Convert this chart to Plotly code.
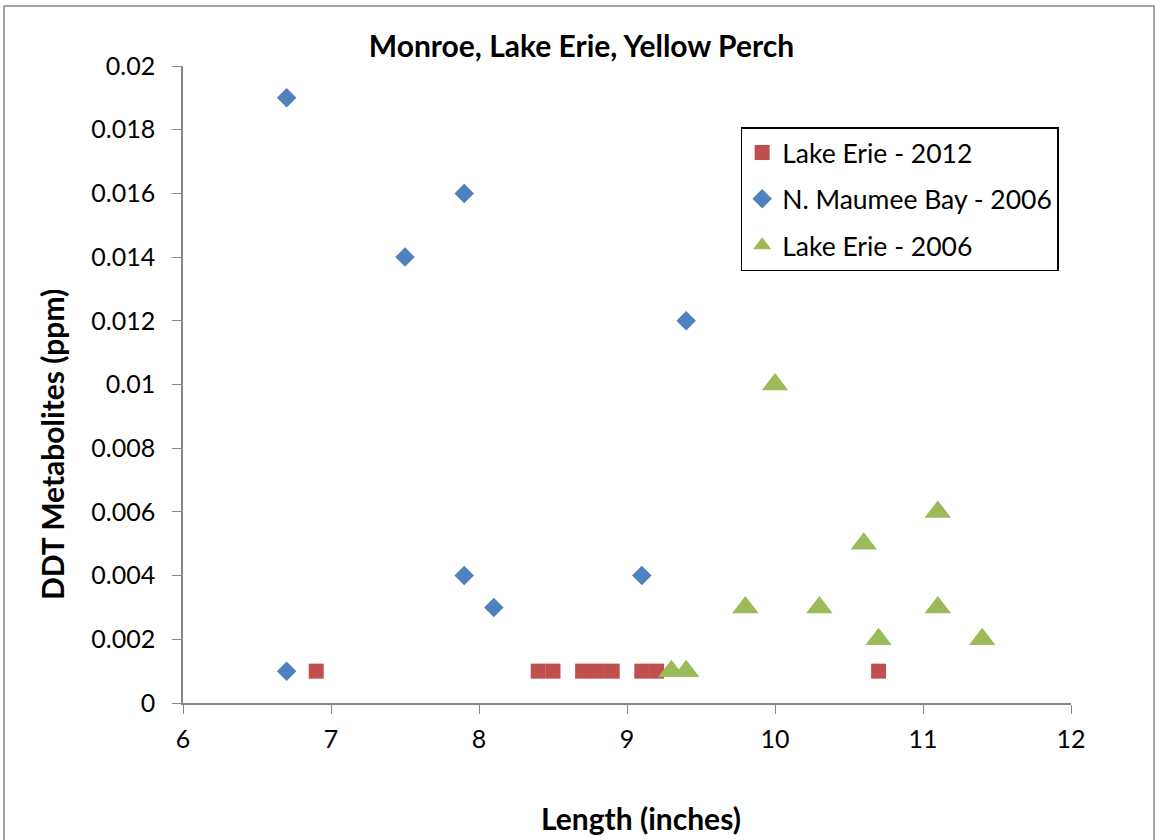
import plotly.graph_objects as go

# Lake Erie - 2012
erie12_len = [6.9, 8.4, 8.5, 8.7, 8.8, 8.9, 9.1, 9.2, 10.7]
erie12_ddt = [0.001, 0.001, 0.001, 0.001, 0.001, 0.001, 0.001, 0.001, 0.001]

# N. Maumee Bay - 2006
maumee_len = [6.7, 6.7, 7.5, 7.9, 7.9, 8.1, 9.1, 9.4]
maumee_ddt = [0.019, 0.001, 0.014, 0.016, 0.004, 0.003, 0.004, 0.012]

# Lake Erie - 2006
erie06_len = [9.3, 9.4, 9.8, 10.0, 10.3, 10.6, 10.7, 11.1, 11.1, 11.4]
erie06_ddt = [0.001, 0.001, 0.003, 0.010, 0.003, 0.005, 0.002, 0.006, 0.003, 0.002]

FONT = "Lato"

fig = go.Figure()
fig.add_trace(go.Scatter(x=erie12_len, y=erie12_ddt, mode="markers", name="Lake Erie - 2012",
                         legendgroup="a", marker=dict(symbol="square", size=15, color="#C0504D")))
fig.add_trace(go.Scatter(x=maumee_len, y=maumee_ddt, mode="markers", name="N. Maumee Bay - 2006",
                         legendgroup="b", marker=dict(symbol="diamond", size=15, color="#4F81BD")))
fig.add_trace(go.Scatter(x=erie06_len, y=erie06_ddt, mode="markers", name="Lake Erie - 2006",
                         legendgroup="c", marker=dict(symbol="triangle-up", size=23, color="#9BBB59")))

axis_style = dict(showgrid=False, zeroline=False, showline=True, linecolor="#868686", linewidth=1.5,
                  ticks="outside", ticklen=9, tickcolor="#868686", automargin=False,
                  tickfont=dict(family=FONT, size=25, color="black"))

fig.update_xaxes(range=[6, 12], dtick=1, ticklabelstandoff=4, **axis_style)
fig.update_yaxes(range=[0, 0.02], dtick=0.002, ticklabelstandoff=12, **axis_style)

# axis titles (placed like the original, slightly off-centre)
fig.add_annotation(text="<b>Length (inches)</b>", xref="paper", yref="paper", x=0.5155, y=-0.18,
                   showarrow=False, xanchor="center", yanchor="middle",
                   font=dict(family=FONT, size=30, color="black"))
fig.add_annotation(text="<b>DDT Metabolites (ppm)</b>", xref="paper", yref="paper", x=-0.1475, y=0.405,
                   showarrow=False, xanchor="center", yanchor="middle", textangle=-90,
                   font=dict(family=FONT, size=30, color="black"))

# outer chart border
fig.add_shape(type="rect", xref="paper", yref="paper", x0=-0.2016, x1=1.0935, y0=-0.23, y1=1.0942,
              line=dict(color="#888888", width=1.5))

fig.update_layout(
    width=1156, height=840,
    margin=dict(l=183, r=85, t=66, b=137),
    plot_bgcolor="white", paper_bgcolor="white",
    font=dict(family=FONT, color="black"),
    title=dict(text="<b>Monroe, Lake Erie, Yellow Perch</b>", x=0.503, xanchor="center",
               y=1 - 46 / 840, yanchor="middle", font=dict(family=FONT, size=30, color="black")),
    legend=dict(x=0.628, y=0.904, xanchor="left", yanchor="top", bordercolor="black", borderwidth=1.5,
                bgcolor="white", font=dict(family=FONT, size=26.5, color="black"),
                traceorder="grouped", tracegroupgap=9),
    showlegend=True,
)

fig.write_html("out.html", config={"displayModeBar": False},
               post_script="document.body.style.margin='0';")
